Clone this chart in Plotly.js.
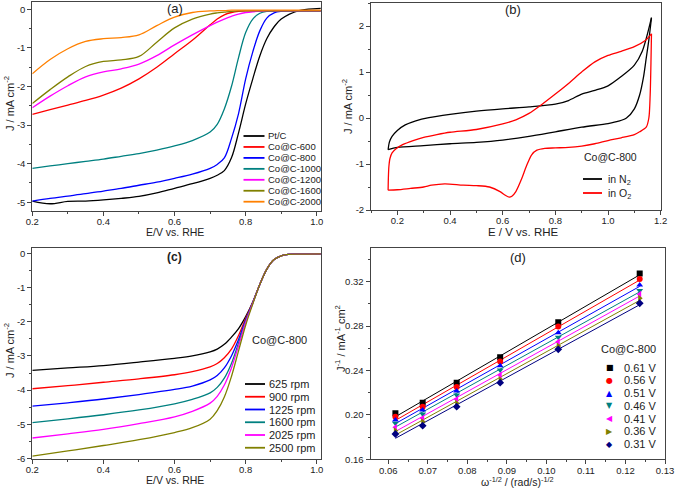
<!DOCTYPE html>
<html>
<head>
<meta charset="utf-8">
<script src="https://cdn.plot.ly/plotly-3.0.1.min.js"></script>
<style>
  html, body { margin: 0; padding: 0; background: #fff; }
  #chart { width: 675px; height: 491px; }
</style>
</head>
<body>
<div id="chart"></div>
<script>
// ---- (a) LSV curves of the catalysts ----
const potA = [0.20, 0.25, 0.30, 0.35, 0.40, 0.45, 0.50, 0.55, 0.60, 0.65, 0.70, 0.72,
              0.74, 0.76, 0.78, 0.80, 0.82, 0.84, 0.86, 0.88, 0.90, 0.95, 1.00, 1.02];
const namesA = ['Pt/C', 'Co@C-600', 'Co@C-800', 'Co@C-1000', 'Co@C-1200', 'Co@C-1600', 'Co@C-2000'];
const ptc    = [-4.97, -5.04, -4.98, -4.97, -4.94, -4.90, -4.85, -4.76, -4.64, -4.52, -4.38, -4.30,
                -4.18, -3.85, -3.20, -2.45, -1.80, -1.20, -0.75, -0.45, -0.25, -0.03, 0.02, 0.03];
const co600  = [-2.72, -2.60, -2.48, -2.36, -2.22, -2.04, -1.80, -1.50, -1.15, -0.80, -0.40, -0.25,
                -0.14, -0.08, -0.05, -0.04, -0.04, -0.04, -0.04, -0.04, -0.04, -0.04, -0.04, -0.04];
const co800  = [-4.97, -4.90, -4.84, -4.78, -4.71, -4.64, -4.56, -4.48, -4.38, -4.27, -4.12, -4.02,
                -3.85, -3.35, -2.70, -1.80, -1.10, -0.55, -0.22, -0.09, -0.05, -0.04, -0.04, -0.04];
const co1000 = [-4.12, -4.06, -4.00, -3.94, -3.88, -3.81, -3.74, -3.65, -3.54, -3.40, -3.18, -2.98,
                -2.58, -2.00, -1.25, -0.60, -0.25, -0.10, -0.05, -0.04, -0.04, -0.04, -0.04, -0.04];
const co1200 = [-2.55, -2.25, -1.98, -1.75, -1.62, -1.54, -1.42, -1.20, -0.92, -0.66, -0.42, -0.33,
                -0.25, -0.18, -0.12, -0.08, -0.06, -0.05, -0.04, -0.04, -0.04, -0.04, -0.04, -0.04];
const co1600 = [-2.44, -2.08, -1.75, -1.48, -1.35, -1.31, -1.22, -0.85, -0.48, -0.25, -0.12, -0.09,
                -0.07, -0.05, -0.04, -0.04, -0.04, -0.04, -0.04, -0.04, -0.04, -0.04, -0.04, -0.04];
const co2000 = [-1.67, -1.30, -1.02, -0.83, -0.76, -0.73, -0.66, -0.42, -0.20, -0.08, -0.04, -0.03,
                -0.03, -0.02, -0.02, -0.02, -0.02, -0.02, -0.02, -0.02, -0.02, -0.02, -0.02, -0.02];
const colorsA = ['#000000', '#ff0000', '#0000ff', '#008080', '#ff00ff', '#808000', '#ff8000'];

// ---- (b) CV of Co@C-800 in N2 and O2 ----
const n2UpE = [0.165, 0.17, 0.18, 0.20, 0.23, 0.27, 0.32, 0.40, 0.50, 0.60, 0.70, 0.80,
               0.85, 0.90, 0.95, 1.00, 1.05, 1.10, 1.13, 1.165];
const n2UpJ = [-0.69, -0.52, -0.40, -0.27, -0.15, -0.06, 0.01, 0.08, 0.15, 0.20, 0.24, 0.30,
               0.38, 0.52, 0.60, 0.70, 0.90, 1.15, 1.45, 2.18];
const n2DnE = [1.165, 1.155, 1.145, 1.135, 1.12, 1.10, 1.07, 1.04, 1.00, 0.90, 0.80, 0.70,
               0.60, 0.50, 0.40, 0.30, 0.20, 0.165];
const n2DnJ = [2.18, 1.70, 1.30, 0.90, 0.50, 0.20, 0.00, -0.07, -0.12, -0.20, -0.30, -0.40,
               -0.48, -0.53, -0.56, -0.60, -0.64, -0.69];
const o2UpE = [0.165, 0.166, 0.168, 0.172, 0.18, 0.195, 0.22, 0.26, 0.30, 0.35, 0.40, 0.50,
               0.60, 0.65, 0.70, 0.75, 0.80, 0.85, 0.90, 0.95, 1.00, 1.05, 1.10, 1.14, 1.165];
const o2UpJ = [-1.57, -1.30, -1.05, -0.88, -0.76, -0.67, -0.58, -0.49, -0.42, -0.36, -0.31, -0.25,
               -0.13, -0.04, 0.10, 0.30, 0.52, 0.75, 1.00, 1.22, 1.36, 1.45, 1.55, 1.68, 1.83];
const o2DnE = [1.165, 1.163, 1.16, 1.155, 1.145, 1.12, 1.10, 1.05, 1.00, 0.95, 0.90, 0.85, 0.80,
               0.76, 0.73, 0.71, 0.69, 0.67, 0.65, 0.635, 0.625, 0.61, 0.59, 0.55, 0.50, 0.45,
               0.38, 0.33, 0.30, 0.25, 0.20, 0.165];
const o2DnJ = [1.83, 1.20, 0.50, 0.00, -0.20, -0.30, -0.36, -0.43, -0.49, -0.56, -0.61, -0.64, -0.65,
               -0.66, -0.70, -0.80, -1.05, -1.35, -1.60, -1.70, -1.72, -1.68, -1.60, -1.50, -1.47, -1.46,
               -1.43, -1.46, -1.50, -1.53, -1.56, -1.57];

// ---- (c) LSV of Co@C-800 at different rotation rates ----
const potC = [0.20, 0.30, 0.40, 0.50, 0.60, 0.65, 0.70, 0.72, 0.74, 0.76, 0.78, 0.80,
              0.82, 0.84, 0.86, 0.88, 0.90, 0.92, 0.95, 1.02];
const namesC = ['625 rpm', '900 rpm', '1225 rpm', '1600 rpm', '2025 rpm', '2500 rpm'];
const rpm625  = [-3.42, -3.35, -3.28, -3.18, -3.07, -3.00, -2.88, -2.80, -2.66, -2.45, -2.20, -1.85,
                 -1.42, -0.90, -0.45, -0.18, -0.07, -0.03, -0.02, -0.01];
const rpm900  = [-3.96, -3.87, -3.77, -3.67, -3.55, -3.46, -3.32, -3.22, -3.05, -2.80, -2.40, -1.90,
                 -1.43, -0.90, -0.45, -0.18, -0.07, -0.03, -0.02, -0.01];
const rpm1225 = [-4.47, -4.37, -4.26, -4.13, -3.98, -3.88, -3.70, -3.57, -3.35, -3.00, -2.52, -1.95,
                 -1.44, -0.90, -0.45, -0.18, -0.07, -0.03, -0.02, -0.01];
const rpm1600 = [-4.95, -4.84, -4.72, -4.58, -4.40, -4.27, -4.08, -3.92, -3.65, -3.22, -2.62, -1.98,
                 -1.45, -0.90, -0.45, -0.18, -0.07, -0.03, -0.02, -0.01];
const rpm2025 = [-5.40, -5.28, -5.15, -4.98, -4.78, -4.62, -4.38, -4.18, -3.85, -3.35, -2.70, -2.02,
                 -1.46, -0.90, -0.45, -0.18, -0.07, -0.03, -0.02, -0.01];
const rpm2500 = [-5.93, -5.78, -5.62, -5.45, -5.24, -5.10, -4.85, -4.60, -4.20, -3.60, -2.85, -2.10,
                 -1.48, -0.90, -0.45, -0.18, -0.07, -0.03, -0.02, -0.01];
const colorsC = ['#000000', '#ff0000', '#0000ff', '#008080', '#ff00ff', '#808000'];

// ---- (d) K-L plots ----
const omega = [0.0618, 0.0687, 0.0773, 0.0883, 0.1030, 0.1236];
const namesD = ['0.61 V', '0.56 V', '0.51 V', '0.46 V', '0.41 V', '0.36 V', '0.31 V'];
const kl061 = [0.2014, 0.2110, 0.2290, 0.2519, 0.2834, 0.3272];
const kl056 = [0.1984, 0.2074, 0.2251, 0.2480, 0.2795, 0.3224];
const kl051 = [0.1954, 0.2044, 0.2215, 0.2443, 0.2740, 0.3170];
const kl046 = [0.1924, 0.2008, 0.2179, 0.2404, 0.2699, 0.3119];
const kl041 = [0.1888, 0.1969, 0.2140, 0.2359, 0.2659, 0.3086];
const kl036 = [0.1858, 0.1939, 0.2104, 0.2320, 0.2620, 0.3050];
const kl031 = [0.1828, 0.1903, 0.2074, 0.2290, 0.2590, 0.3005];
const colorsD = ['#000000', '#ff0000', '#0000ff', '#008080', '#ff00ff', '#808000', '#000080'];
const symbolsD = ['square', 'circle', 'triangle-up', 'triangle-down', 'triangle-left', 'triangle-right', 'diamond'];
const glyphsD = ['\u25A0', '\u25CF', '\u25B2', '\u25BC', '\u25C0', '\u25B6', '\u25C6'];

// tick labels
const tickA = [0, -1, -2, -3, -4, -5];
const tickB = [-2, -1, 0, 1, 2];
const tickC = [0, -1, -2, -3, -4, -5, -6];

const FONT = 'Liberation Sans, Arial, Helvetica, sans-serif';
const W = 675, H = 491;
const px = x => x / W;
const py = y => 1 - y / H;

function fitLine(xs, ys) { // least squares line through the K-L points
    let sx = 0, sy = 0, sxx = 0, sxy = 0;
    const n = xs.length;
    for (let i = 0; i < n; i++) {
        sx += xs[i]; sy += ys[i]; sxx += xs[i] * xs[i]; sxy += xs[i] * ys[i];
    }
    const k = (n * sxy - sx * sy) / (n * sxx - sx * sx);
    const b = (sy - k * sx) / n;
    return [k * xs[0] + b, k * xs[n - 1] + b];
}

const data = [];

// (a)
[ptc, co600, co800, co1000, co1200, co1600, co2000].forEach((ys, i) => {
    data.push({x: potA, y: ys, xaxis: 'x', yaxis: 'y', mode: 'lines', name: namesA[i],
        line: {color: colorsA[i], width: 1.3, shape: 'spline', smoothing: 1}});
});

// (b)
[[n2UpE, n2UpJ, '#000000'], [n2DnE, n2DnJ, '#000000'],
 [o2UpE, o2UpJ, '#ff0000'], [o2DnE, o2DnJ, '#ff0000']].forEach(s => {
    data.push({x: s[0], y: s[1], xaxis: 'x2', yaxis: 'y2', mode: 'lines',
        line: {color: s[2], width: 1.3, shape: 'spline', smoothing: 0.8}});
});

// (c)
[rpm625, rpm900, rpm1225, rpm1600, rpm2025, rpm2500].forEach((ys, i) => {
    data.push({x: potC, y: ys, xaxis: 'x3', yaxis: 'y3', mode: 'lines', name: namesC[i],
        line: {color: colorsC[i], width: 1.3, shape: 'spline', smoothing: 1}});
});

// (d) fit lines first, markers on top
const klSets = [kl061, kl056, kl051, kl046, kl041, kl036, kl031];
klSets.forEach((ys, i) => {
    data.push({x: [omega[0], omega[omega.length - 1]], y: fitLine(omega, ys),
        xaxis: 'x4', yaxis: 'y4', mode: 'lines', line: {color: colorsD[i], width: 1}});
});
klSets.forEach((ys, i) => {
    data.push({x: omega, y: ys, xaxis: 'x4', yaxis: 'y4', mode: 'markers', name: namesD[i],
        marker: {symbol: symbolsD[i], color: colorsD[i], size: 6}});
});

function axisStyle(extra) {
    return Object.assign({
        showline: true, mirror: true, linecolor: '#444', linewidth: 1,
        ticks: 'outside', ticklen: 4, tickwidth: 1, tickcolor: '#444',
        showgrid: false, zeroline: false, automargin: false, fixedrange: true,
        tickfont: {family: FONT, size: 9.5, color: '#222'}
    }, extra);
}
const minorX = (t0, dt) => ({ticks: 'outside', ticklen: 2, tickcolor: '#444', tick0: t0, dtick: dt});

const layout = {
    width: W, height: H,
    margin: {l: 0, r: 0, t: 0, b: 0},
    paper_bgcolor: '#fff', plot_bgcolor: '#fff',
    showlegend: false,
    font: {family: FONT, color: '#222'},
    xaxis: axisStyle({domain: [px(32.3), px(320.7)], anchor: 'y', range: [0.2, 1.011],
        tickmode: 'linear', tick0: 0.2, dtick: 0.2, tickformat: '.1f', ticklabelstandoff: -2,
        minor: minorX(0.3, 0.2)}),
    yaxis: axisStyle({domain: [py(210.7), py(1.7)], anchor: 'x', range: [-5.22, 0.2],
        tickmode: 'array', tickvals: tickA, ticktext: tickA.map(String),
        minor: minorX(0.5, 1)}),
    xaxis2: axisStyle({domain: [px(371), px(660.7)], anchor: 'y2', range: [0.1, 1.2],
        tickmode: 'linear', tick0: 0.2, dtick: 0.2, tickformat: '.1f', ticklabelstandoff: -2,
        minor: minorX(0.1, 0.2)}),
    yaxis2: axisStyle({domain: [py(210), py(3)], anchor: 'x2', range: [-2, 2.5],
        tickmode: 'array', tickvals: tickB, ticktext: tickB.map(String),
        minor: minorX(0.5, 1)}),
    xaxis3: axisStyle({domain: [px(32.3), px(320.7)], anchor: 'y3', range: [0.2, 1.011],
        tickmode: 'linear', tick0: 0.2, dtick: 0.2, tickformat: '.1f', ticklabelstandoff: -2,
        minor: minorX(0.3, 0.2)}),
    yaxis3: axisStyle({domain: [py(459), py(248.3)], anchor: 'x3', range: [-6.015, 0.15],
        tickmode: 'array', tickvals: tickC, ticktext: tickC.map(String),
        minor: minorX(0.5, 1)}),
    xaxis4: axisStyle({domain: [px(370.5), px(665)], anchor: 'y4', range: [0.0555, 0.13],
        tickmode: 'linear', tick0: 0.06, dtick: 0.01, tickformat: '.2f', ticklabelstandoff: -2,
        minor: minorX(0.055, 0.01)}),
    yaxis4: axisStyle({domain: [py(459.3), py(248.3)], anchor: 'x4', range: [0.16, 0.35],
        tickmode: 'linear', tick0: 0.16, dtick: 0.04, tickformat: '.2f',
        minor: minorX(0.18, 0.04)}),
    shapes: [],
    annotations: []
};

function note(text, x, y, opts) {
    layout.annotations.push(Object.assign({
        text: text, x: px(x), y: py(y), xref: 'paper', yref: 'paper',
        showarrow: false, xanchor: 'center', yanchor: 'middle',
        font: {family: FONT, size: 11, color: '#222'}
    }, opts || {}));
}
function keyLine(x0, x1, y, color) {
    layout.shapes.push({type: 'line', xref: 'paper', yref: 'paper',
        x0: px(x0), x1: px(x1), y0: py(y), y1: py(y), line: {color: color, width: 1.8}});
}

// panel labels
note('(a)', 175, 9, {font: {family: FONT, size: 13, color: '#222'}});
note('(b)', 513, 10, {font: {family: FONT, size: 13, color: '#222'}});
note('<b>(c)</b>', 174, 257, {font: {family: FONT, size: 12, color: '#222'}});
note('(d)', 518, 257, {font: {family: FONT, size: 13, color: '#222'}});

// axis titles
note('E/V vs. RHE', 175, 232, {font: {family: FONT, size: 10.5, color: '#222'}});
note('J / mA cm<sup>-2</sup>', 9, 104, {textangle: -90});
note('E / V vs. RHE', 523, 232, {font: {family: FONT, size: 11.5, color: '#222'}});
note('J / mA cm<sup>-2</sup>', 347, 107, {textangle: -90});
note('E/V vs. RHE', 175, 480, {font: {family: FONT, size: 10.5, color: '#222'}});
note('J / mA cm<sup>-2</sup>', 9, 351, {textangle: -90});
note('\u03c9<sup>-1/2</sup> / (rad/s)<sup>-1/2</sup>', 517, 481, {font: {family: FONT, size: 10.5, color: '#222'}});
note('J<sup>-1</sup> / mA<sup>-1</sup> cm<sup>2</sup>', 340, 338, {textangle: -90});

// legend (a)
namesA.forEach((n, i) => {
    const y = 136 + i * 10.95;
    keyLine(243.5, 264.5, y, colorsA[i]);
    note(n, 266, y, {xanchor: 'left', font: {family: FONT, size: 9.5, color: '#222'}});
});

// legend (b)
note('Co@C-800', 582, 157, {xanchor: 'left', font: {family: FONT, size: 10.5, color: '#222'}});
keyLine(583, 602, 179, '#000000');
note('in N<sub>2</sub>', 606, 180, {xanchor: 'left', font: {family: FONT, size: 10.5, color: '#222'}});
keyLine(583, 602, 193, '#ff0000');
note('in O<sub>2</sub>', 606, 194, {xanchor: 'left', font: {family: FONT, size: 10.5, color: '#222'}});

// legend (c)
note('Co@C-800', 250, 340, {xanchor: 'left', font: {family: FONT, size: 11, color: '#222'}});
namesC.forEach((n, i) => {
    const y = 384 + i * 12.75;
    keyLine(245, 265, y, colorsC[i]);
    note(n, 267, y, {xanchor: 'left', font: {family: FONT, size: 11, color: '#222'}});
});

// legend (d)
note('Co@C-800', 599, 349, {xanchor: 'left', font: {family: FONT, size: 11, color: '#222'}});
namesD.forEach((n, i) => {
    const y = 367.7 + i * 12.75;
    note(glyphsD[i], 609.5, y, {font: {family: 'DejaVu Sans', size: 8, color: colorsD[i]}});
    note(n, 622, y, {xanchor: 'left', font: {family: FONT, size: 11, color: '#222'}});
});

Plotly.newPlot('chart', data, layout, {staticPlot: true});
</script>
</body>
</html>
